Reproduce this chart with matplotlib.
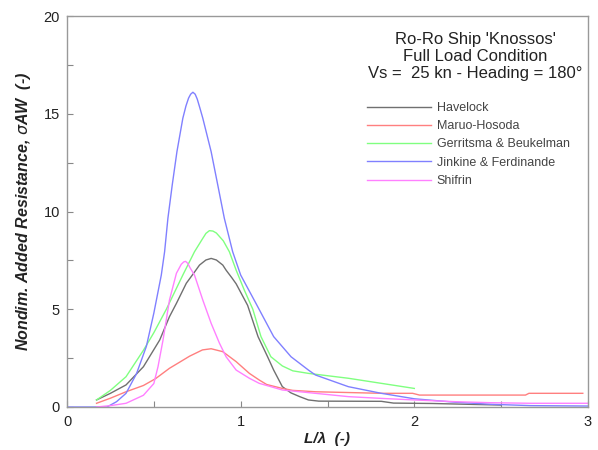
import matplotlib
matplotlib.use("Agg")
import matplotlib.pyplot as plt
from matplotlib.ticker import MultipleLocator

plt.rcParams['font.family'] = ['Liberation Sans', 'DejaVu Sans']
plt.rcParams['mathtext.fontset'] = 'dejavusans'

# Havelock
hav_x = [0.17, 0.25, 0.34, 0.44, 0.534, 0.59, 0.63, 0.687, 0.734, 0.763, 0.80, 0.83, 0.86, 0.897,
         0.916, 0.95, 0.974, 1.04, 1.10, 1.155, 1.19, 1.24, 1.29, 1.34, 1.39, 1.45, 1.81, 1.88, 2.1, 2.5]
hav_y = [0.36, 0.70, 1.13, 2.06, 3.43, 4.62, 5.3, 6.33, 6.9, 7.26, 7.52, 7.6, 7.52, 7.26,
         7.0, 6.6, 6.3, 5.2, 3.6, 2.57, 1.89, 1.04, 0.72, 0.53, 0.36, 0.30, 0.29, 0.20, 0.18, 0.10]

# Maruo-Hosoda
mh_x = [0.17, 0.25, 0.34, 0.44, 0.51, 0.59, 0.65, 0.706, 0.78, 0.83, 0.897, 0.974, 1.05, 1.107,
        1.15, 1.24, 1.30, 1.43, 1.81, 1.99, 2.03, 2.64, 2.66, 2.97]
mh_y = [0.19, 0.45, 0.78, 1.10, 1.45, 1.98, 2.30, 2.60, 2.92, 2.98, 2.83, 2.32, 1.72, 1.38,
        1.15, 0.95, 0.85, 0.78, 0.70, 0.70, 0.61, 0.61, 0.70, 0.70]

# Gerritsma & Beukelman
gb_x = [0.17, 0.25, 0.34, 0.44, 0.50, 0.572, 0.667, 0.734, 0.78, 0.80, 0.82, 0.84, 0.86, 0.90,
        0.935, 0.974, 1.02, 1.07, 1.117, 1.174, 1.24, 1.30, 1.39, 1.50, 1.62, 1.81, 2.0]
gb_y = [0.36, 0.85, 1.55, 2.90, 3.80, 5.0, 6.75, 7.94, 8.6, 8.88, 9.02, 9.0, 8.9, 8.5,
        7.94, 7.0, 6.0, 5.0, 3.6, 2.57, 2.10, 1.85, 1.72, 1.60, 1.47, 1.21, 0.95]

# Jinkine & Ferdinande
jf_x = [0.0, 0.23, 0.285, 0.34, 0.40, 0.457, 0.50, 0.543, 0.562, 0.581, 0.606, 0.633, 0.667, 0.685,
        0.70, 0.712, 0.725, 0.738, 0.75, 0.765, 0.782, 0.83, 0.868, 0.906, 0.954, 1.0, 1.088, 1.19,
        1.29, 1.39, 1.43, 1.62, 1.81, 2.0, 2.24, 2.44, 2.67, 3.0]
jf_y = [0.0, 0.0, 0.27, 0.70, 1.70, 3.10, 4.80, 6.75, 7.94, 9.65, 11.36, 13.06, 14.77, 15.4,
        15.8, 16.0, 16.1, 16.0, 15.75, 15.3, 14.77, 13.06, 11.36, 9.65, 7.94, 6.75, 5.3, 3.6,
        2.57, 1.89, 1.64, 1.04, 0.70, 0.42, 0.24, 0.14, 0.07, 0.05]

# Shifrin
sh_x = [0.17, 0.25, 0.34, 0.44, 0.50, 0.524, 0.553, 0.59, 0.63, 0.658, 0.672, 0.683, 0.695, 0.71,
        0.734, 0.782, 0.83, 0.878, 0.916, 0.974, 1.05, 1.107, 1.24, 1.43, 1.62, 1.81, 2.0, 2.24,
        2.44, 2.67, 3.0]
sh_y = [0.0, 0.07, 0.19, 0.60, 1.20, 2.06, 3.43, 5.47, 6.84, 7.3, 7.42, 7.45, 7.35, 7.1,
        6.75, 5.47, 4.28, 3.26, 2.57, 1.89, 1.47, 1.21, 0.87, 0.70, 0.53, 0.44, 0.36, 0.27,
        0.22, 0.19, 0.19]

labels = ["Havelock", "Maruo-Hosoda", "Gerritsma & Beukelman", "Jinkine & Ferdinande", "Shifrin"]
colors = ["#707070", "#ff7f7f", "#80ff80", "#8080ff", "#ff80ff"]

title_lines = ["Ro-Ro Ship 'Knossos'", "Full Load Condition", "Vs =  25 kn - Heading = 180\u00b0"]

fig = plt.figure(figsize=(5.98, 4.5), dpi=100)
ax = fig.add_axes([67/598, 43/450, 521/598, 391/450])

series = [(hav_x, hav_y), (mh_x, mh_y), (gb_x, gb_y), (jf_x, jf_y), (sh_x, sh_y)]
for (xs, ys), lab, col in zip(series, labels, colors):
    ax.plot(xs, ys, color=col, lw=1.0, label=lab, solid_joinstyle='round')

ax.set_xlim(0, 3)
ax.set_ylim(0, 20)
ax.xaxis.set_major_locator(MultipleLocator(1))
ax.xaxis.set_minor_locator(MultipleLocator(0.5))
ax.yaxis.set_major_locator(MultipleLocator(5))
ax.yaxis.set_minor_locator(MultipleLocator(2.5))
ax.tick_params(which='both', direction='in', colors='#888888', labelcolor='#222222', labelsize=10.5)
ax.tick_params(which='major', length=4, width=0.8)
ax.tick_params(which='minor', length=4, width=0.8)
ax.tick_params(axis='x', pad=6)
ax.tick_params(axis='y', pad=5)
for s in ax.spines.values():
    s.set_color('#999999')
    s.set_linewidth(1.0)

ax.set_xlabel("L/\u03bb  (-)", fontsize=11, fontweight='bold', style='italic', color='#222222', labelpad=2)
ax.set_ylabel("Nondim. Added Resistance, $\\sigma$AW  (-)", fontsize=11.5, fontweight='bold',
              style='italic', color='#222222', labelpad=8)

for i, line in enumerate(title_lines):
    ax.text(0.783, 0.939 - i * 0.0425, line, transform=ax.transAxes, ha='center', va='center',
            fontsize=12, color='#222222')

leg = ax.legend(loc='upper left', bbox_to_anchor=(0.566, 0.793), frameon=False, fontsize=9,
                handlelength=5.1, handletextpad=0.5, labelspacing=0.5, borderaxespad=0)
for t in leg.get_texts():
    t.set_color('#444444')

fig.savefig("out.png", dpi=100)
